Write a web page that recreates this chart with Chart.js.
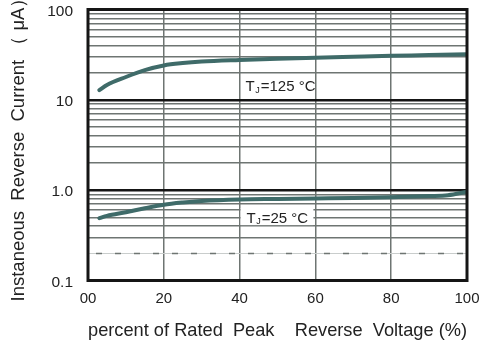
<!DOCTYPE html>
<html>
<head>
<meta charset="utf-8">
<script src="https://cdn.jsdelivr.net/npm/chart.js@4/dist/chart.umd.min.js"></script>
<style>
    html, body { margin: 0; padding: 0; background: #fff; }
    #wrap { width: 488px; height: 348px; }
</style>
</head>
<body>
<div id="wrap"><canvas id="myChart" width="488" height="348"></canvas></div>
<script>
// values
var voltage125 = [3, 5, 10, 15, 20, 25, 30, 40, 50, 60, 70, 80, 90, 100];
var current125 = [12.8, 14.6, 17.9, 21.3, 24.0, 25.5, 26.5, 27.6, 28.5, 29.3, 30.0, 30.7, 31.3, 32.0];

var voltage25 = [3, 5, 10, 15, 20, 25, 30, 40, 50, 60, 70, 80, 90, 95, 100];
var current25 = [0.49, 0.52, 0.57, 0.63, 0.69, 0.73, 0.76, 0.79, 0.80, 0.81, 0.82, 0.835, 0.86, 0.88, 0.96];

var xTickValues = [0, 20, 40, 60, 80, 100];
var xTickLabels = ["00", "20", "40", "60", "80", "100"];

var yGridValues = [0.1, 0.2, 0.3, 0.4, 0.5, 0.6, 0.7, 0.8, 0.9,
                   1, 2, 3, 4, 5, 6, 7, 8, 9,
                   10, 20, 30, 40, 50, 60, 70, 80, 90, 100];
var yTickValues = [0.1, 1, 10, 100];
var yTickLabels = ["0.1", "1.0", "10", "100"];

var fontFam = '"Liberation Sans", Arial, sans-serif';
var curveColor = "#3f6b69";
var gridGray = "#6e7572";

function pairs(xs, ys) {
    return xs.map(function (x, i) { return {x: x, y: ys[i]}; });
}

function isDecade(v) {
    return v === 1 || v === 10;
}

var framePlugin = {
    id: "frame",
    beforeDatasetsDraw: function (chart) {
        let ctx = chart.ctx;
        let a = chart.chartArea;
        let y = Math.round(chart.scales.y.getPixelForValue(0.2)) + 0.5;
        ctx.save();
        ctx.strokeStyle = "#c9cdcc";
        ctx.lineWidth = 1;
        ctx.beginPath();
        ctx.moveTo(a.left, y);
        ctx.lineTo(a.right, y);
        ctx.stroke();
        ctx.strokeStyle = gridGray;
        ctx.lineWidth = 1.5;
        ctx.setLineDash([6, 13]);
        ctx.beginPath();
        ctx.moveTo(a.left + 8, y);
        ctx.lineTo(a.right, y);
        ctx.stroke();
        ctx.restore();
    },
    afterDatasetsDraw: function (chart) {
        let ctx = chart.ctx;
        let a = chart.chartArea;
        let xs = chart.scales.x;
        let ys = chart.scales.y;
        ctx.save();
        ctx.strokeStyle = "#151515";
        ctx.lineWidth = 3;
        ctx.strokeRect(a.left, a.top, a.right - a.left, a.bottom - a.top);

        // 25 °C label sits in a white box over the grid
        let bx = xs.getPixelForValue(40) + 1;
        let bw = xs.getPixelForValue(60) - bx - 2;
        let by = ys.getPixelForValue(0.63);
        let bh = ys.getPixelForValue(0.4) - by - 1;
        ctx.fillStyle = "#fff";
        ctx.fillRect(bx, by, bw, bh);

        drawTj(ctx, xs.getPixelForValue(40) + 6, ys.getPixelForValue(10) - 8.5, "125");
        drawTj(ctx, xs.getPixelForValue(40) + 7, ys.getPixelForValue(0.4) - 3.5, "25");
        ctx.restore();
    }
};

function drawTj(ctx, x, y, temp) {
    ctx.fillStyle = "#222";
    ctx.textBaseline = "alphabetic";
    ctx.textAlign = "left";
    ctx.font = "15px " + fontFam;
    ctx.fillText("T", x, y);
    let w = ctx.measureText("T").width;
    ctx.font = "9px " + fontFam;
    ctx.fillText("J", x + w + 0.5, y + 1.5);
    let w2 = ctx.measureText("J").width;
    ctx.font = "15px " + fontFam;
    ctx.fillText("=" + temp + " \u00b0C", x + w + w2 + 1.5, y);
}

new Chart("myChart", {
    type: "line",
    data: {
        datasets: [{
            data: pairs(voltage125, current125),
            borderColor: curveColor,
            borderWidth: 4,
            pointRadius: 0,
            cubicInterpolationMode: "monotone",
            borderCapStyle: "round",
            fill: false
        }, {
            data: pairs(voltage25, current25),
            borderColor: curveColor,
            borderWidth: 4,
            pointRadius: 0,
            cubicInterpolationMode: "monotone",
            borderCapStyle: "round",
            fill: false
        }]
    },
    options: {
        responsive: false,
        animation: false,
        events: [],
        layout: { padding: { top: 9.5, right: 21, left: 0, bottom: 0 } },
        plugins: { legend: { display: false }, tooltip: { enabled: false } },
        scales: {
            x: {
                type: "linear",
                min: 0,
                max: 100,
                afterBuildTicks: function (scale) {
                    scale.ticks = xTickValues.map(function (v) { return {value: v}; });
                },
                afterFit: function (scale) {
                    scale.height = 67.5;
                    scale.paddingLeft = 0;
                    scale.paddingRight = 0;
                },
                border: { display: false },
                grid: {
                    drawTicks: false,
                    lineWidth: 1.5,
                    color: function (c) {
                        if (!c.tick || c.tick.value === 0 || c.tick.value === 100) return "rgba(0,0,0,0)";
                        return gridGray;
                    }
                },
                ticks: {
                    autoSkip: false,
                    maxRotation: 0,
                    padding: 9,
                    color: "#222",
                    font: { family: fontFam, size: 15 },
                    callback: function (value) {
                        let i = xTickValues.indexOf(value);
                        return i >= 0 ? xTickLabels[i] : "";
                    }
                },
                title: {
                    display: true,
                    text: "percent of Rated  Peak    Reverse  Voltage (%)",
                    color: "#222",
                    font: { family: fontFam, size: 18.5 },
                    padding: { top: 0, bottom: 5.5 }
                }
            },
            y: {
                type: "logarithmic",
                min: 0.1,
                max: 100,
                afterBuildTicks: function (scale) {
                    scale.ticks = yGridValues.map(function (v) { return {value: v}; });
                },
                afterFit: function (scale) {
                    scale.width = 88;
                    scale.paddingTop = 0;
                    scale.paddingBottom = 0;
                },
                border: { display: false },
                grid: {
                    drawTicks: false,
                    lineWidth: function (c) {
                        return c.tick && isDecade(c.tick.value) ? 2.5 : 1.5;
                    },
                    color: function (c) {
                        if (!c.tick) return gridGray;
                        let v = c.tick.value;
                        if (v === 0.1 || v === 100 || v === 0.2) return "rgba(0,0,0,0)";
                        if (isDecade(v)) return "#151515";
                        return gridGray;
                    }
                },
                ticks: {
                    autoSkip: false,
                    padding: 15,
                    labelOffset: 2,
                    color: "#222",
                    font: { family: fontFam, size: 15.5 },
                    callback: function (value) {
                        let i = yTickValues.indexOf(value);
                        return i >= 0 ? yTickLabels[i] : "";
                    }
                },
                title: {
                    display: true,
                    text: "Instaneous  Reverse  Current \uff08 \u03bcA\uff09",
                    color: "#222",
                    font: { family: fontFam, size: 18.5 },
                    padding: { top: 8, bottom: 0 }
                }
            }
        }
    },
    plugins: [framePlugin]
});
</script>
</body>
</html>
